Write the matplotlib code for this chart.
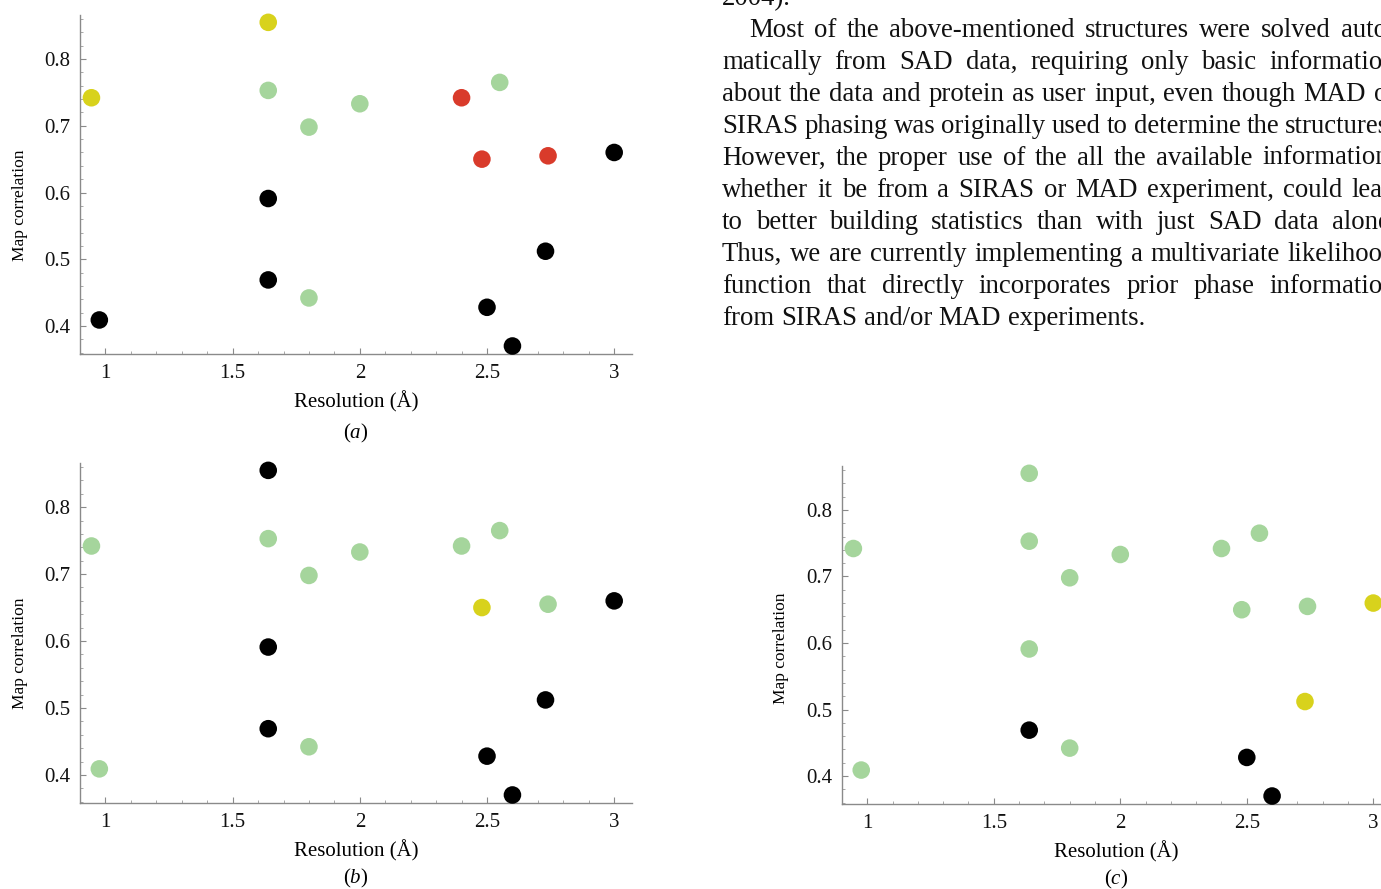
import numpy as np
import matplotlib
matplotlib.use("Agg")
import matplotlib.pyplot as plt
from matplotlib.ticker import MultipleLocator

# Data: resolution (A) and map correlation, same structures in every panel
resolution = [0.945, 1.64, 1.64, 1.80, 2.00, 2.55, 1.80, 2.40, 2.48,
              2.74, 3.00, 1.64, 1.64, 0.976, 2.50, 2.60, 2.73]
map_corr = [0.742, 0.855, 0.753, 0.698, 0.733, 0.765, 0.442, 0.742, 0.650,
            0.655, 0.660, 0.591, 0.469, 0.409, 0.428, 0.370, 0.512]

# Colour class of each point per panel: y = yellow, g = green, r = red, k = black
classes_a = ["y", "y", "g", "g", "g", "g", "g", "r", "r",
             "r", "k", "k", "k", "k", "k", "k", "k"]
classes_b = ["g", "k", "g", "g", "g", "g", "g", "g", "y",
             "g", "k", "k", "k", "g", "k", "k", "k"]
classes_c = ["g", "g", "g", "g", "g", "g", "g", "g", "g",
             "g", "y", "g", "k", "g", "k", "k", "y"]

panel_labels = ["a", "b", "c"]
x_ticks = [1, 1.5, 2, 2.5, 3]
x_ticklabels = ["1", "1.5", "2", "2.5", "3"]
y_ticks = [0.4, 0.5, 0.6, 0.7, 0.8]
y_ticklabels = ["0.4", "0.5", "0.6", "0.7", "0.8"]

paragraph = [
    "2004).",
    "Most of the above-mentioned structures were solved auto-",
    "matically from SAD data, requiring only basic information",
    "about the data and protein as user input, even though MAD or",
    "SIRAS phasing was originally used to determine the structures.",
    "However, the proper use of the all the available information,",
    "whether it be from a SIRAS or MAD experiment, could lead",
    "to better building statistics than with just SAD data alone.",
    "Thus, we are currently implementing a multivariate likelihood",
    "function that directly incorporates prior phase information",
    "from SIRAS and/or MAD experiments.",
]

colors = {"y": "#d8d21c", "g": "#a5d59c", "r": "#d93b2b", "k": "#000000"}
serif = ["Liberation Serif", "DejaVu Serif"]
plt.rcParams["font.family"] = serif
plt.rcParams["mathtext.fontset"] = "custom"
plt.rcParams["mathtext.rm"] = "Liberation Serif"
plt.rcParams["mathtext.it"] = "Liberation Serif:italic"

W, H = 1381, 889
fig = plt.figure(figsize=(W / 100, H / 100), dpi=100)

# axes rectangles in pixels: left, top, width, height
rects = [(80, 15, 552, 339), (80, 463, 552, 340), (842, 466, 549, 338)]
panels = [classes_a, classes_b, classes_c]
ylabel_pos = [(-0.094, 0.44), (-0.094, 0.44), (-0.097, 0.46)]
caption_offset = [-57, -54.5, -54]


def style_axes(ax):
    for s in ["top", "right"]:
        ax.spines[s].set_visible(False)
    for s in ["left", "bottom"]:
        ax.spines[s].set_color("#8a8a8a")
        ax.spines[s].set_linewidth(1.0)
    ax.set_xlim(0.9, 3.07)
    ax.set_ylim(0.358, 0.866)
    ax.set_xticks(x_ticks)
    ax.set_xticklabels(x_ticklabels)
    ax.set_yticks(y_ticks)
    ax.set_yticklabels(y_ticklabels)
    ax.xaxis.set_minor_locator(MultipleLocator(0.1))
    ax.yaxis.set_minor_locator(MultipleLocator(0.02))
    ax.tick_params(which="major", direction="in", length=4, width=0.8,
                   color="#8a8a8a", labelsize=15, labelcolor="#111111")
    ax.tick_params(which="minor", direction="in", length=2.5, width=0.6,
                   color="#9a9a9a")
    ax.tick_params(axis="x", pad=7)
    ax.tick_params(axis="y", pad=7)


for (l, t, w, h), cls, lab, (lx, ly), cy in zip(rects, panels, panel_labels,
                                               ylabel_pos, caption_offset):
    ax = fig.add_axes([l / W, 1 - (t + h) / H, w / W, h / H])
    style_axes(ax)
    ax.scatter(resolution, map_corr, s=160, c=[colors[c] for c in cls],
               edgecolors="none", zorder=3, clip_on=False)
    ax.set_xlabel("Resolution (Å)", fontsize=15, labelpad=6)
    ax.set_ylabel("Map correlation", fontsize=12.5)
    ax.yaxis.set_label_coords(lx, ly)
    ax.annotate("($\\mathit{%s}$)" % lab, xy=(0.5, 0), xycoords="axes fraction",
                xytext=(0, cy), textcoords="offset points",
                ha="center", va="center", fontsize=15)

# Justified paragraph of the page text on the upper right
fs = 19.3
renderer = fig.canvas.get_renderer()


def width_of(s):
    t = fig.text(0, 0, s, fontsize=fs)
    w = t.get_window_extent(renderer).width
    t.remove()
    return w


space_w = width_of("a b") - width_of("ab")
left_x, right_x = 722, 1396
baseline0 = 5
line_step = 32
for i, line in enumerate(paragraph):
    y = baseline0 + i * line_step
    x0 = left_x + (27 if i == 1 else 0)
    words = line.split()
    widths = [width_of(wd) for wd in words]
    justify = 0 < i < len(paragraph) - 1
    if justify and len(words) > 1:
        gap = (right_x - x0 - sum(widths)) / (len(words) - 1)
        gap = max(gap, 0.6 * space_w)
    else:
        gap = space_w
    x = x0
    for wd, ww in zip(words, widths):
        fig.text(x / W, 1 - y / H, wd, fontsize=fs, color="#111111",
                 ha="left", va="baseline")
        x += ww + gap

fig.savefig("out.png", dpi=100, facecolor="white")
